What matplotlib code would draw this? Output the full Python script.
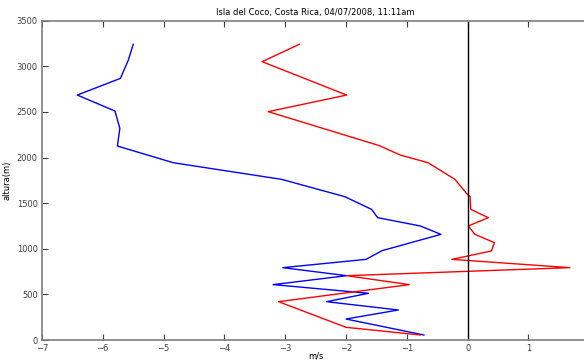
import numpy as np
import matplotlib.pyplot as plt

# perfil azul (m/s, altura m)
azul_u = [-5.50, -5.58, -5.71, -6.42, -5.80, -5.72, -5.76, -4.84, -3.06, -2.02, -1.58, -1.48,
          -0.78, -0.44, -1.41, -1.67, -3.04, -1.99, -3.20, -1.63, -2.32, -1.14, -2.00, -0.72]
azul_z = [3241, 3069, 2868, 2685, 2510, 2320, 2126, 1943, 1761, 1571, 1432, 1341,
          1250, 1158, 979, 884, 793, 705, 607, 512, 420, 329, 230, 55]

# perfil rojo
rojo_u = [-2.77, -3.38, -1.99, -3.28, -1.45, -1.11, -0.65, -0.21, -0.02, 0.04, 0.05, 0.34,
          0.01, 0.12, 0.44, 0.39, -0.26, 1.68, -1.99, -0.96, -3.11, -2.00, -0.78]
rojo_z = [3241, 3051, 2685, 2503, 2130, 2028, 1943, 1761, 1608, 1571, 1432, 1341,
          1250, 1158, 1067, 976, 884, 793, 705, 607, 420, 139, 55]

xticks = [-7, -6, -5, -4, -3, -2, -1, 0, 1]
yticks = [0, 500, 1000, 1500, 2000, 2500, 3000, 3500]

fig = plt.figure(figsize=(5.84, 3.6), dpi=100)
ax = fig.add_axes([42/584, 20/360, (589.3-42)/584, 319.3/360])

ax.plot(azul_u, azul_z, color='#0000ff', lw=1)
ax.plot(rojo_u, rojo_z, color='#ff0000', lw=1)
ax.axvline(0, color='black', lw=1)

ax.set_xlim(-7, 2)
ax.set_ylim(0, 3500)
ax.set_xticks(xticks)
ax.set_yticks(yticks)
ax.tick_params(direction='in', length=4, labelsize=6, colors='#404040',
               top=True, right=False, pad=3)
for s in ax.spines.values():
    s.set_color('#7f7f7f')
    s.set_linewidth(1.2)

ax.set_title('Isla del Coco, Costa Rica, 04/07/2008, 11:11am', fontsize=6, pad=4)
ax.set_xlabel('m/s', fontsize=6)
ax.xaxis.set_label_coords(0.5, -0.035)
ax.set_ylabel('altura(m)', fontsize=6, labelpad=4)

fig.savefig('out.png', dpi=100)
